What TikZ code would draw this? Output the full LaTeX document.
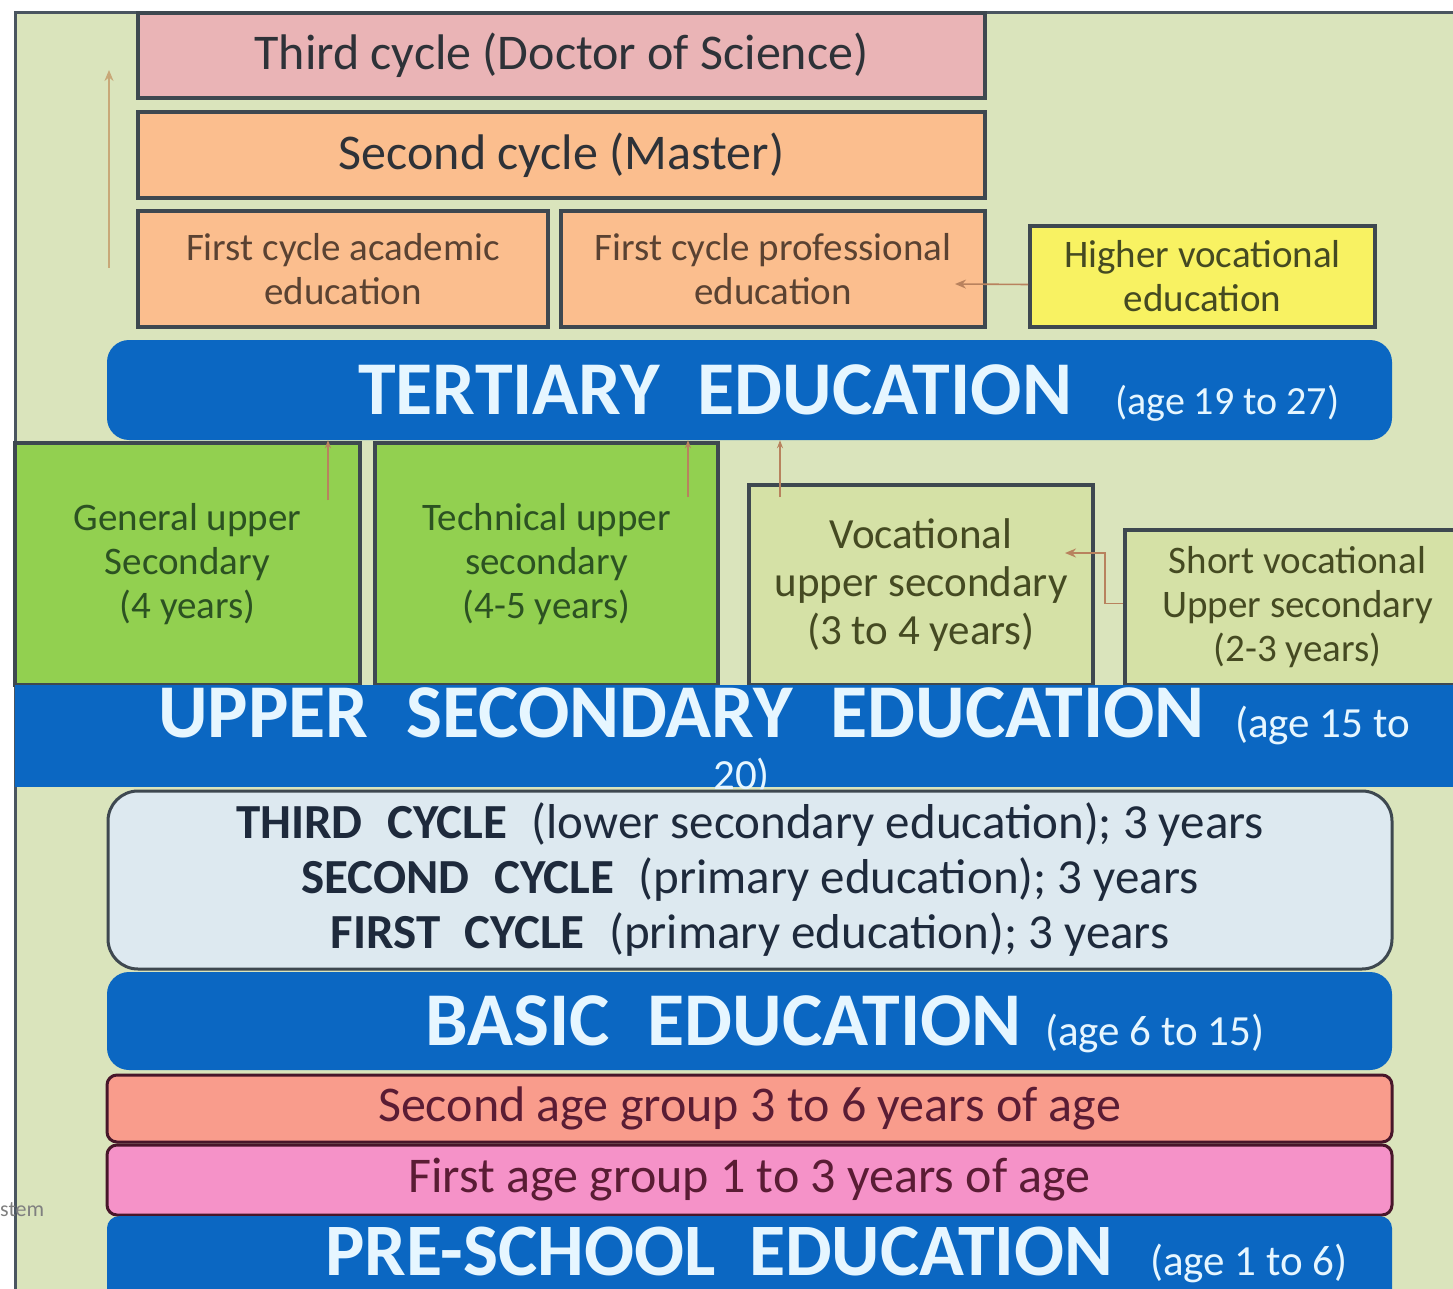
\documentclass[tikz,border=0pt]{standalone}
\usepackage{fontspec}
\setmainfont{Carlito}
\usetikzlibrary{arrows.meta}
\definecolor{framebg}{HTML}{DAE4BC}
\definecolor{framegray}{HTML}{4A5560}
\definecolor{bordergray}{HTML}{3E4850}
\definecolor{bandblue}{HTML}{0B67C2}
\definecolor{bandtext}{HTML}{E6F6FF}
\definecolor{pinkbox}{HTML}{EAB4B6}
\definecolor{orangebox}{HTML}{FBBE8E}
\definecolor{yellowbox}{HTML}{F8F262}
\definecolor{greenbox}{HTML}{92D050}
\definecolor{olivebox}{HTML}{D5E1A6}
\definecolor{cyclebox}{HTML}{DDE9F0}
\definecolor{salmonbox}{HTML}{F99C8C}
\definecolor{rosebox}{HTML}{F592C8}
\definecolor{arrowcol}{HTML}{B8825E}
\definecolor{tancol}{HTML}{C8A878}
\definecolor{darktext}{HTML}{2E3238}
\definecolor{browntext}{HTML}{5A4232}
\definecolor{olivetext}{HTML}{454A22}
\definecolor{greentext}{HTML}{2C5222}
\definecolor{navytext}{HTML}{1E2A3C}
\definecolor{maroontext}{HTML}{5A1C34}
\tikzset{
  box/.style={draw=bordergray, line width=4pt, inner sep=0pt, align=center},
  band/.style={fill=bandblue, inner sep=0pt},
  bandlabel/.style={text=bandtext, inner sep=0pt, anchor=base west, font=\fontsize{76}{78}\selectfont\bfseries},
  agelabel/.style={text=bandtext, inner sep=0pt, anchor=base west, font=\fontsize{43}{46}\selectfont},
  arr/.style={draw=arrowcol, line width=1.6pt, -{Stealth[length=11pt,width=9pt]}},
  fbig/.style={font=\fontsize{50}{56}\selectfont},
  fmid/.style={font=\fontsize{39}{44}\selectfont},
  fvoc/.style={font=\fontsize{43}{48}\selectfont},
}
\begin{document}
\begin{tikzpicture}[x=1pt,y=-1pt]
\useasboundingbox (0,0) rectangle (1453,1289);
\fill[white] (0,0) rectangle (1453,1289);
% outer frame
\draw[fill=framebg, draw=framegray, line width=3pt] (15,13) rectangle (1475,1310);
\node[text=gray, anchor=base west, inner sep=0pt, font=\fontsize{22}{24}\selectfont] (stemtxt) at (0,1216) {stem};

% tertiary level boxes
\node[box, fill=pinkbox, text=darktext, fbig, minimum width=847pt, minimum height=85pt] (third) at (561.5,55.5) {Third cycle (Doctor of Science)};
\node[box, fill=orangebox, text=darktext, fbig, minimum width=847pt, minimum height=86pt] (second) at (561.5,155) {Second cycle (Master)};
\node[box, fill=orangebox, text=browntext, fmid, minimum width=410pt, minimum height=116pt] (acad) at (343,269) {First cycle academic\\education};
\node[box, fill=orangebox, text=browntext, fmid, minimum width=424pt, minimum height=116pt] (prof) at (773,269) {First cycle professional\\education};
\node[box, fill=yellowbox, text=olivetext, fmid, minimum width=345pt, minimum height=101pt] (higher) at (1202.5,276.5) {Higher vocational\\education};
\coordinate (profin) at (955,284);
\draw[arr] ([yshift=-8pt]higher.west) -- (profin);
\coordinate (leftlow) at (109,268);
\coordinate (lefttop) at (109,70);
\draw[draw=tancol, line width=2pt, -{Stealth[length=11pt,width=9pt]}] (leftlow) -- (lefttop);

% tertiary band
\node[band, rounded corners=22pt, minimum width=1285pt, minimum height=100pt] (tertiary) at (749.5,390) {};
\node[bandlabel] (tertlabel) at (358,414) {TERTIARY\hspace{0.5em}EDUCATION};
\node[agelabel, font=\fontsize{40}{44}\selectfont] (tertage) at (1115,414) {(age 19 to 27)};

% upper secondary boxes
\node[box, fill=greenbox, text=greentext, fmid, minimum width=345pt, minimum height=242pt] (general) at (187.5,564) {General upper\\Secondary\\(4 years)};
\node[box, fill=greenbox, text=greentext, fmid, minimum width=343pt, minimum height=242pt] (technical) at (546.5,564) {Technical upper\\secondary\\(4-5 years)};
\node[box, fill=olivebox, text=olivetext, fvoc, minimum width=344pt, minimum height=200pt] (vocational) at (921,585) {Vocational\\upper secondary\\(3 to 4 years)};
\node[box, fill=olivebox, text=olivetext, fmid, minimum width=345pt, minimum height=155pt] (short) at (1297.5,607.5) {Short vocational\\Upper secondary\\(2-3 years)};
\coordinate (g1) at (328,500);
\coordinate (t1) at (688,497);
\coordinate (v1) at (780,497);
\draw[arr, line width=1.3pt, -{Stealth[length=8pt,width=6pt]}] (g1) -- (g1 |- tertiary.south);
\draw[arr, line width=1.3pt, -{Stealth[length=8pt,width=6pt]}] (t1) -- (t1 |- tertiary.south);
\draw[arr, line width=1.3pt, -{Stealth[length=8pt,width=6pt]}] (v1) -- (v1 |- tertiary.south);
\coordinate (vocin) at (1065,553);
\draw[arr] ([yshift=4pt]short.west) -- ++(-18,0) |- (vocin);

% upper secondary band
\node[band, minimum width=1460pt, minimum height=102pt, anchor=north west] (upper) at (15,685) {};
\node[bandlabel] (upperlabel) at (158,737) {UPPER\hspace{0.5em}SECONDARY\hspace{0.5em}EDUCATION};
\node[agelabel] (upperage) at (1235,737) {(age 15 to};
\node[agelabel] (upperage2) at (713,789) {20)};

% basic education cycles
\node[box, line width=3pt, rounded corners=30pt, fill=cyclebox, text=navytext, font=\fontsize{49}{55}\selectfont, minimum width=1284pt, minimum height=178pt] (cycles) at (750,880) {\textbf{THIRD\hspace{0.5em}CYCLE}\hspace{0.5em}(lower secondary education); 3 years\\\textbf{SECOND\hspace{0.5em}CYCLE}\hspace{0.5em}(primary education); 3 years\\\textbf{FIRST\hspace{0.5em}CYCLE}\hspace{0.5em}(primary education); 3 years};

\node[band, rounded corners=22pt, minimum width=1285pt, minimum height=98pt] (basic) at (749.5,1021) {};
\node[bandlabel] (basiclabel) at (425,1045) {BASIC\hspace{0.5em}EDUCATION};
\node[agelabel] (basicage) at (1045,1045) {(age 6 to 15)};

% pre-school
\node[box, line width=3pt, draw=maroontext!80!black, rounded corners=10pt, fill=salmonbox, text=maroontext, fbig, minimum width=1285pt, minimum height=67pt] (agetwo) at (749.5,1108.5) {Second age group 3 to 6 years of age};
\node[box, line width=3pt, draw=maroontext!80!black, rounded corners=10pt, fill=rosebox, text=maroontext, fbig, minimum width=1285pt, minimum height=70pt] (ageone) at (749.5,1180) {First age group 1 to 3 years of age};
\node[band, rounded corners=12pt, minimum width=1285pt, minimum height=100pt, anchor=north] (preschool) at (749.5,1216) {};
\node[bandlabel, font=\fontsize{74}{76}\selectfont\bfseries] (prelabel) at (325,1275) {PRE-SCHOOL\hspace{0.45em}EDUCATION};
\node[agelabel] (preage) at (1150,1275) {(age 1 to 6)};
\end{tikzpicture}
\end{document}
